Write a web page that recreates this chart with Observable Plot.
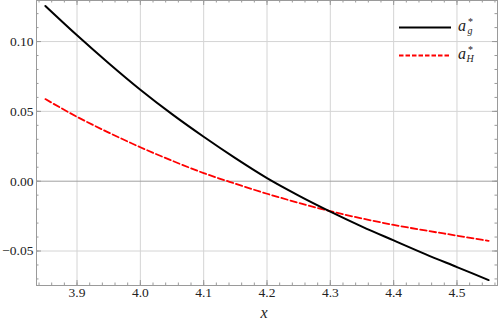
<!DOCTYPE html>
<html>
<head>
<meta charset="utf-8">
<script src="https://cdn.jsdelivr.net/npm/d3@7"></script>
<script src="https://cdn.jsdelivr.net/npm/@observablehq/plot@0.6"></script>
<style>
  html, body { margin: 0; padding: 0; background: #fff; }
  #chart { position: relative; width: 498px; height: 324px; }
  svg { display: block; }
  #chart svg, #chart svg text { font-family: "Liberation Serif", "Times New Roman", "DejaVu Serif", serif !important; }
</style>
</head>
<body>
<div id="chart"></div>
<script>
// ---- data ----
const xValues = [3.85, 3.90, 3.95, 4.00, 4.05, 4.10, 4.15, 4.20, 4.25, 4.30, 4.35, 4.40, 4.45, 4.50, 4.55];
const agValues = [0.1255, 0.1045, 0.0845, 0.0655, 0.0480, 0.0318, 0.0165, 0.0022, -0.0103, -0.0218, -0.0325, -0.0424, -0.0522, -0.0615, -0.0708];
const aHValues = [0.0588, 0.0461, 0.0348, 0.0243, 0.0147, 0.0058, -0.0018, -0.0090, -0.0155, -0.0215, -0.0267, -0.0313, -0.0353, -0.0390, -0.0428];
const seriesNames = ["a_g", "a_H"];
const xMajorTicks = [3.9, 4.0, 4.1, 4.2, 4.3, 4.4, 4.5];
const yMajorTicks = [-0.05, 0.00, 0.05, 0.10];
const xLabel = "x";

const xMinorTicks = d3.range(192, 229).map(i => +(i * 0.02).toFixed(2));   // 3.84 .. 4.56
const yMinorTicks = d3.range(-7, 13).map(i => +(i * 0.01).toFixed(2));     // -0.07 .. 0.12

const rows = [];
xValues.forEach((x, i) => {
  rows.push({x, y: agValues[i], s: seriesNames[0]});
  rows.push({x, y: aHValues[i], s: seriesNames[1]});
});

const W = 498, H = 324;
const mL = 36, mR = 1, mT = 0, mB = 39;
const fw = W - mL - mR, fh = H - mT - mB;
const font = "'Liberation Serif', 'Times New Roman', 'DejaVu Serif', serif";
const frameColor = "#9a9a9a";
const gridColor = "#d4d4d4";

const plot = Plot.plot({
  width: W, height: H,
  marginLeft: mL, marginRight: mR, marginTop: mT, marginBottom: mB,
  style: {fontFamily: font, fontSize: "13.5px", color: "#222", background: "#fff"},
  x: {domain: [3.836, 4.564], label: null},
  y: {domain: [-0.0747, 0.1294], label: null},
  marks: [
    Plot.gridX(xMajorTicks, {stroke: gridColor, strokeOpacity: 1}),
    Plot.gridY(yMajorTicks.filter(d => d !== 0), {stroke: gridColor, strokeOpacity: 1}),
    Plot.ruleY([0], {stroke: "#a0a0a0"}),
    // minor ticks (inward) on all four sides
    Plot.tickX(xMinorTicks, {x: d => d, stroke: frameColor, insetTop: fh - 2.5}),
    Plot.tickX(xMinorTicks, {x: d => d, stroke: frameColor, insetBottom: fh - 2.5}),
    Plot.tickY(yMinorTicks, {y: d => d, stroke: frameColor, insetRight: fw - 2.5}),
    Plot.tickY(yMinorTicks, {y: d => d, stroke: frameColor, insetLeft: fw - 2.5}),
    // major ticks
    Plot.tickX(xMajorTicks, {x: d => d, stroke: frameColor, insetTop: fh - 5}),
    Plot.tickX(xMajorTicks, {x: d => d, stroke: frameColor, insetBottom: fh - 5}),
    Plot.tickY(yMajorTicks, {y: d => d, stroke: frameColor, insetRight: fw - 5}),
    Plot.tickY(yMajorTicks, {y: d => d, stroke: frameColor, insetLeft: fw - 5}),
    Plot.frame({stroke: frameColor}),
    Plot.axisX(xMajorTicks, {anchor: "bottom", tickSize: 0, tickPadding: 2, tickFormat: d3.format(".1f"), label: null, fill: "#222"}),
    Plot.axisY(yMajorTicks, {anchor: "left", tickSize: 0, tickPadding: 3, tickFormat: d3.format(".2f"), label: null, fill: "#222"}),
    Plot.text([xLabel], {text: d => d, frameAnchor: "bottom", dy: 32, dx: -3, fontStyle: "italic", fontSize: 16, fill: "#222"}),
    Plot.line(rows.filter(d => d.s === seriesNames[1]), {x: "x", y: "y", stroke: "#ff0000", strokeWidth: 1.8, strokeDasharray: "6.5,3", curve: "monotone-x"}),
    Plot.line(rows.filter(d => d.s === seriesNames[0]), {x: "x", y: "y", stroke: "#000", strokeWidth: 2, curve: "monotone-x"})
  ]
});

document.getElementById("chart").appendChild(plot);

// legend inside the plot area
const svg = d3.select(plot);
const lg = svg.append("g").attr("fill", "#222");
const legendItems = [
  {sub: "g", stroke: "#000", dash: null, y: 27.5, width: 2},
  {sub: "H", stroke: "#ff0000", dash: "4.5,2", y: 55.5, width: 1.8}
];
legendItems.forEach(it => {
  lg.append("line").attr("x1", 399).attr("x2", 451).attr("y1", it.y).attr("y2", it.y)
    .attr("stroke", it.stroke).attr("stroke-width", it.width).attr("stroke-dasharray", it.dash);
  lg.append("text").attr("x", 462).attr("y", it.y + 3.5).attr("font-style", "italic").attr("font-size", 16).text("a");
  lg.append("text").attr("x", 470.5).attr("y", it.y - 3).attr("font-size", 10).text("*");
  lg.append("text").attr("x", 470).attr("y", it.y + 6.5).attr("font-style", "italic").attr("font-size", 10).text(it.sub);
});
</script>
</body>
</html>
